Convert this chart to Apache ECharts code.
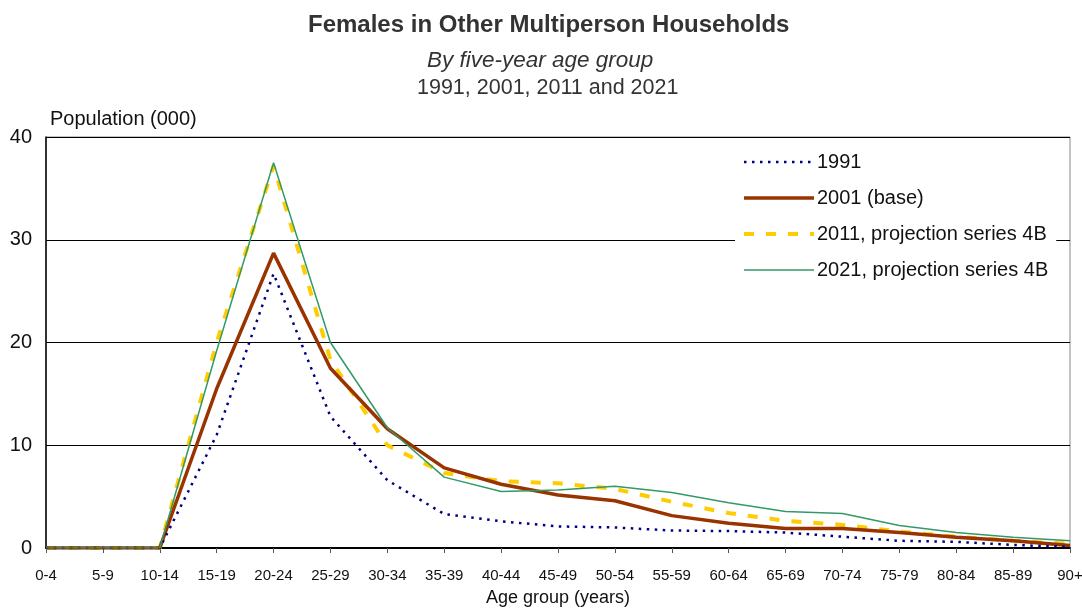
<!DOCTYPE html>
<html>
<head>
<meta charset="utf-8">
<script src="https://cdn.jsdelivr.net/npm/echarts@6/dist/echarts.min.js"></script>
<style>
  html, body { margin: 0; padding: 0; background: #fff; }
  #chart { width: 1082px; height: 608px; }
</style>
</head>
<body>
<div id="chart"></div>
<script>
// Age groups along the x axis
const ageGroups = ['0-4', '5-9', '10-14', '15-19', '20-24', '25-29', '30-34', '35-39', '40-44',
  '45-49', '50-54', '55-59', '60-64', '65-69', '70-74', '75-79', '80-84', '85-89', '90+'];

// Population in thousands
const pop1991 = [0, 0, 0, 11.0, 26.7, 12.8, 6.6, 3.3, 2.6, 2.1, 2.0, 1.7, 1.65, 1.5, 1.1, 0.7, 0.6, 0.3, 0.1];
const pop2001 = [0, 0, 0, 15.5, 28.7, 17.5, 11.6, 7.8, 6.2, 5.15, 4.6, 3.15, 2.4, 1.9, 1.9, 1.5, 1.05, 0.7, 0.25];
const pop2011 = [0, 0, 0, 20.0, 37.2, 18.3, 10.0, 7.3, 6.5, 6.3, 5.75, 4.5, 3.4, 2.65, 2.25, 1.6, 1.1, 0.7, 0.4];
const pop2021 = [0, 0, 0, 19.2, 37.5, 20.0, 11.7, 6.9, 5.5, 5.65, 6.0, 5.4, 4.4, 3.55, 3.35, 2.2, 1.5, 1.05, 0.7];

const yTicks = [0, 10, 20, 30, 40];

const seriesNames = ['1991', '2001 (base)', '2011, projection series 4B', '2021, projection series 4B'];

// Line styles shared by the series and their legend entries
const styles = [
  { color: '#000080', width: 2.5, type: [2.5, 5.5] },
  { color: '#993300', width: 3.5, type: 'solid' },
  { color: '#FFCC00', width: 4, type: [10, 12] },
  { color: '#339966', width: 1.5, type: 'solid' }
];
const seriesData = [pop1991, pop2001, pop2011, pop2021];
const zOrder = [4, 3, 2, 5];

const font = '"Liberation Sans", Arial, sans-serif';

const chart = echarts.init(document.getElementById('chart'), null, { renderer: 'canvas' });

chart.setOption({
  animation: false,
  backgroundColor: '#ffffff',
  title: [
    {
      text: 'Females in Other Multiperson Households',
      left: 303, top: 8,
      textStyle: { fontFamily: font, fontSize: 24, fontWeight: 'bold', color: '#333333' }
    },
    {
      text: 'By five-year age group',
      left: 422, top: 44,
      textStyle: { fontFamily: font, fontSize: 22.5, fontStyle: 'italic', fontWeight: 'normal', color: '#333333' }
    },
    {
      text: '1991, 2001, 2011 and 2021',
      left: 412, top: 72,
      textStyle: { fontFamily: font, fontSize: 21.5, fontWeight: 'normal', color: '#333333' }
    }
  ],
  legend: {
    orient: 'vertical',
    left: 735, top: 148,
    padding: [4, 8, 4, 7],
    backgroundColor: '#ffffff',
    itemWidth: 70,
    itemHeight: 14,
    itemGap: 16,
    itemStyle: { opacity: 0 },
    textStyle: { fontFamily: font, fontSize: 20, color: '#111111', padding: [0, 0, 0, -2] },
    data: seriesNames.map((name, i) => ({ name, lineStyle: styles[i] }))
  },
  grid: { left: 46, right: 12, top: 137, bottom: 60, containLabel: false,
    outerBoundsMode: 'none',
    show: true, borderColor: '#888888', borderWidth: 1 },
  xAxis: {
    type: 'category',
    data: ageGroups,
    boundaryGap: false,
    name: 'Age group (years)',
    nameLocation: 'middle',
    nameGap: 41,
    nameTextStyle: { fontFamily: font, fontSize: 18, color: '#111111' },
    axisLine: { lineStyle: { color: '#000000', width: 2 } },
    axisTick: { show: true, alignWithLabel: true, length: 5, lineStyle: { color: '#555555' } },
    axisLabel: { fontFamily: font, fontSize: 15, color: '#111111', margin: 20, interval: 0 },
    splitLine: { show: false }
  },
  yAxis: {
    type: 'value',
    min: yTicks[0],
    max: yTicks[yTicks.length - 1],
    interval: 10,
    name: 'Population (000)',
    nameLocation: 'end',
    nameGap: 8,
    nameTextStyle: { fontFamily: font, fontSize: 20, color: '#111111', align: 'left', padding: [0, 0, 0, 4] },
    axisLine: { show: true, lineStyle: { color: '#000000', width: 1.5 } },
    axisTick: { show: false },
    axisLabel: { fontFamily: font, fontSize: 20, color: '#111111', margin: 14 },
    splitLine: { show: true, lineStyle: { color: '#000000', width: 1 } }
  },
  series: seriesNames.map((name, i) => ({
    name,
    type: 'line',
    data: seriesData[i],
    symbol: 'none',
    lineStyle: styles[i],
    itemStyle: { color: styles[i].color },
    z: zOrder[i]
  }))
});
</script>
</body>
</html>
